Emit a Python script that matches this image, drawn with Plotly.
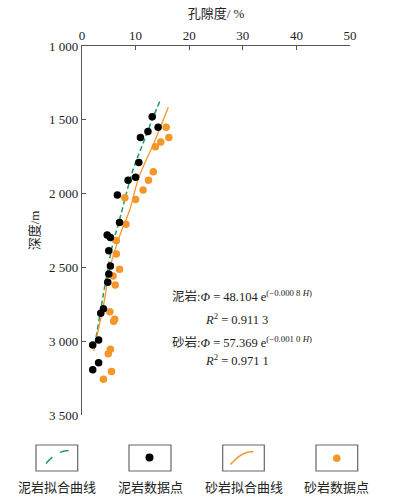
import plotly.graph_objects as go

# ---- data ----
mud_phi = [13.1, 14.2, 12.3, 10.9, 10.6, 10.0, 8.6, 6.6, 7.0, 4.7, 5.3, 5.0, 5.3, 5.0, 4.8, 4.0, 3.5, 3.1, 2.0, 3.1, 2.0]
mud_depth = [1480, 1550, 1580, 1620, 1790, 1890, 1910, 2010, 2195, 2280, 2298, 2388, 2490, 2545, 2600, 2780, 2810, 2992, 3025, 3146, 3193]

sand_phi = [15.7, 16.2, 14.7, 13.7, 13.3, 12.4, 11.4, 10.0, 8.0, 8.2, 6.4, 6.4, 7.0, 5.8, 6.2, 5.2, 6.1, 5.9, 5.3, 4.9, 5.5, 4.0]
sand_depth = [1550, 1620, 1650, 1683, 1852, 1910, 1975, 2040, 2028, 2208, 2318, 2410, 2513, 2558, 2620, 2800, 2852, 2865, 3055, 3085, 3206, 3258]

mud_fit_phi = [14.5, 13.3, 11.5, 9.5, 7.2, 5.5, 4.0, 2.3]
mud_fit_depth = [1377, 1480, 1650, 1840, 2150, 2380, 2680, 3048]

sand_fit_phi = [16.1, 13.5, 10.6, 8.9, 7.0, 5.1, 4.3, 2.2]
sand_fit_depth = [1415, 1650, 1890, 2110, 2290, 2518, 2700, 3066]

x_ticks = [0, 10, 20, 30, 40, 50]
y_ticks = [1000, 1500, 2000, 2500, 3000, 3500]
y_ticktext = ["1 000", "1 500", "2 000", "2 500", "3 000", "3 500"]

legend_labels = ["泥岩拟合曲线", "泥岩数据点", "砂岩拟合曲线", "砂岩数据点"]

# ---- styles ----
FONT = "Liberation Serif, Times New Roman, Noto Sans CJK SC, serif"
GREEN = "#1e9e55"
ORANGE = "#f5962a"
AXIS = "#555555"

fig = go.Figure()
fig.add_trace(go.Scatter(x=mud_fit_phi, y=mud_fit_depth, mode="lines",
                         line=dict(color=GREEN, width=1.5, dash="5px,3px", shape="spline"),
                         showlegend=False, hoverinfo="skip"))
fig.add_trace(go.Scatter(x=sand_fit_phi, y=sand_fit_depth, mode="lines",
                         line=dict(color=ORANGE, width=1.3, shape="spline"),
                         showlegend=False, hoverinfo="skip"))
fig.add_trace(go.Scatter(x=sand_phi, y=sand_depth, mode="markers",
                         marker=dict(color=ORANGE, size=7.5, line=dict(width=0)),
                         showlegend=False))
fig.add_trace(go.Scatter(x=mud_phi, y=mud_depth, mode="markers",
                         marker=dict(color="#000000", size=7.5, line=dict(width=0)),
                         showlegend=False))

W, H = 394, 504
ML, MR, MT, MB = 82, 44, 46, 89
PW, PH = W - ML - MR, H - MT - MB


def px(x):
    return (x - ML) / PW


def py(y):
    return (H - MB - y) / PH


fig.update_layout(
    width=W, height=H,
    margin=dict(l=ML, r=MR, t=MT, b=MB, autoexpand=False),
    paper_bgcolor="white", plot_bgcolor="white",
    font=dict(family=FONT, size=13, color="#222222"),
    xaxis=dict(range=[0, 50], side="top", tickvals=x_ticks, ticks="inside", ticklen=4,
               tickcolor=AXIS, showline=True, linecolor=AXIS, linewidth=1.2,
               showgrid=False, zeroline=False, tickfont=dict(size=13), automargin=False,
               title=dict(text="孔隙度/ %", font=dict(size=13), standoff=6)),
    yaxis=dict(range=[3500, 1000], tickvals=y_ticks, ticktext=y_ticktext,
               ticks="inside", ticklen=4, tickcolor=AXIS, showline=True,
               linecolor=AXIS, linewidth=1.2, showgrid=False, zeroline=False,
               tickfont=dict(size=13), automargin=False,
               title=dict(text="深度/m", font=dict(size=13), standoff=6)),
)

# equations
eq = [
    (170, 296, "泥岩:<i>Φ</i> = 48.104 e<sup>(−0.000 8 <i>H</i>)</sup>"),
    (203, 319, "<i>R</i><sup>2</sup> = 0.911 3"),
    (170, 342, "砂岩:<i>Φ</i> = 57.369 e<sup>(−0.001 0 <i>H</i>)</sup>"),
    (203, 360, "<i>R</i><sup>2</sup> = 0.971 1"),
]
for x0, y0, t in eq:
    fig.add_annotation(x=px(x0), y=py(y0), xref="paper", yref="paper", text=t,
                       showarrow=False, xanchor="left", yanchor="middle",
                       font=dict(size=12.5, color="#222222"))

# custom legend
boxes = [(36, 77.7), (129, 171), (222.7, 264.3), (316, 357.7)]
by0, by1 = 445, 471
for (bx0, bx1), lab in zip(boxes, legend_labels):
    fig.add_shape(type="rect", xref="paper", yref="paper",
                  x0=px(bx0), x1=px(bx1), y0=py(by1), y1=py(by0),
                  line=dict(color="#666666", width=1.2), fillcolor="white")
    fig.add_annotation(x=px((bx0 + bx1) / 2), y=py(487), xref="paper", yref="paper",
                       text=lab, showarrow=False, xanchor="center", yanchor="middle",
                       font=dict(size=13, color="#222222"))


def curve_path(x0, y0, x1, y1):
    cx, cy = x0 + (x1 - x0) * 0.45, y1
    return (f"M {px(x0)},{py(y0)} Q {px(cx)},{py(cy)} {px(x1)},{py(y1)}")


fig.add_shape(type="path", xref="paper", yref="paper",
              path=curve_path(46, 463.5, 69.5, 450.5),
              line=dict(color=GREEN, width=1.5, dash="dash"))
fig.add_shape(type="path", xref="paper", yref="paper",
              path=curve_path(230.5, 464.5, 253.5, 451.5),
              line=dict(color=ORANGE, width=1.3))
for cxp, cyp, col, r in [(149.5, 457.5, "#000000", 4.0), (336.8, 458.3, ORANGE, 3.8)]:
    fig.add_shape(type="circle", xref="paper", yref="paper",
                  x0=px(cxp - r), x1=px(cxp + r), y0=py(cyp + r), y1=py(cyp - r),
                  line=dict(width=0), fillcolor=col)

fig.write_html("out.html", config={"displayModeBar": False},
               post_script="document.body.style.margin='0px';document.body.style.padding='0px';")
